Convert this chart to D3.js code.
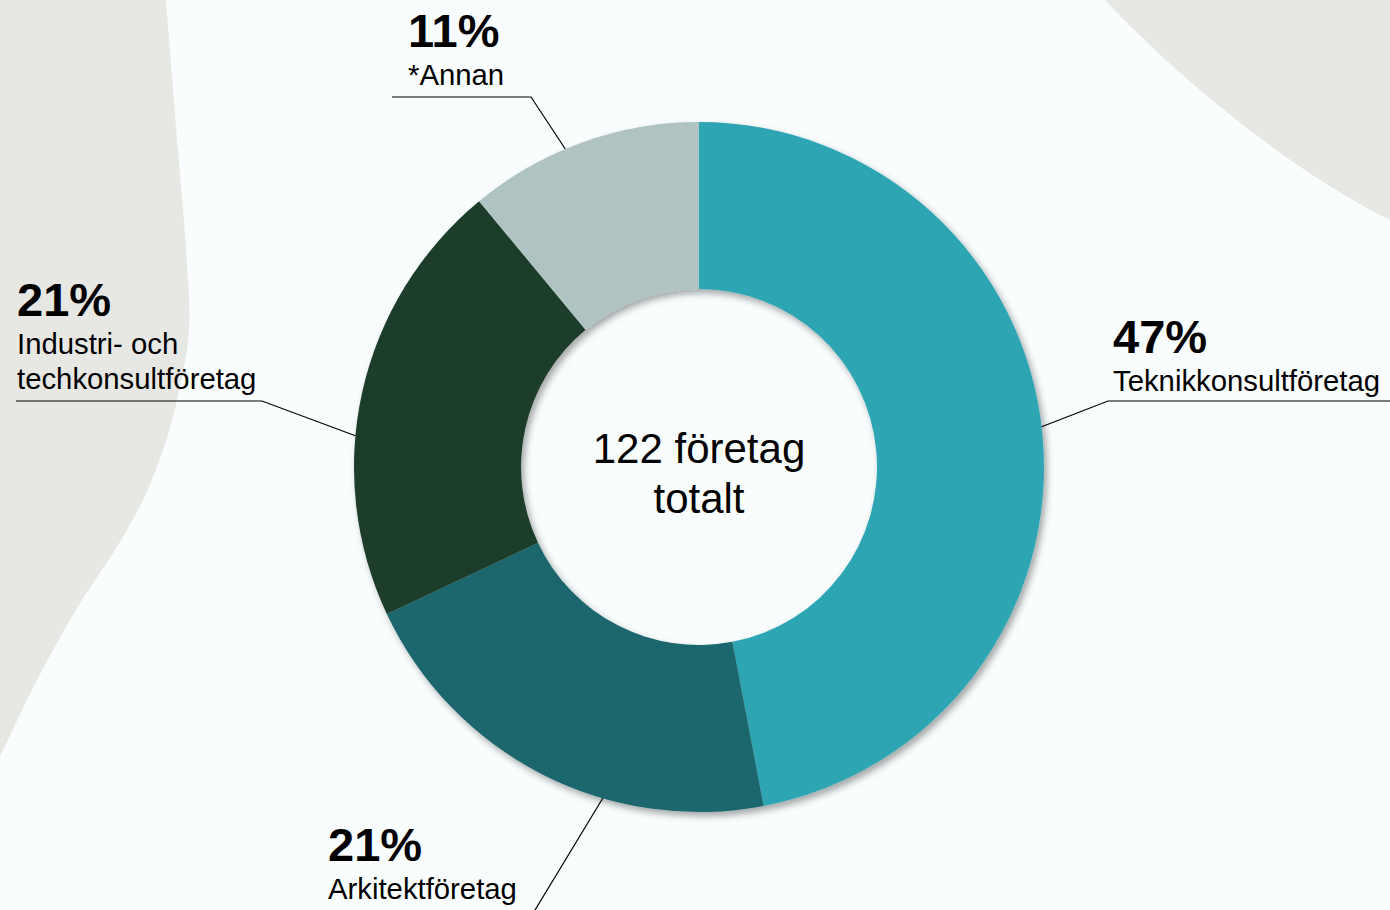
<!DOCTYPE html>
<html>
<head>
<meta charset="utf-8">
<script src="https://cdn.jsdelivr.net/npm/d3@7"></script>
<style>
  html, body { margin: 0; padding: 0; background: #f9fdfd; }
  svg { display: block; }
  text { font-family: "Liberation Sans", Arial, sans-serif; fill: #000; }
</style>
</head>
<body>
<svg id="chart" width="1390" height="910"></svg>
<script>
// ---- Data ----
const categories = ["Teknikkonsultföretag", "Arkitektföretag", "Industri- och techkonsultföretag", "*Annan"];
const values = [47, 21, 21, 11];
const percentLabels = ["47%", "21%", "21%", "11%"];
const labelLines = [["Teknikkonsultföretag"], ["Arkitektföretag"], ["Industri- och", "techkonsultföretag"], ["*Annan"]];
const colors = ["#2ea5b3", "#1f666e", "#1c3c29", "#b0c3c3"];
const centerText = ["122 företag", "totalt"];

// ---- Layout (label placement & decoration) ----
const cx = 699, cy = 467, outerR = 345, innerR = 178;
const labelLayout = [
  { x: 1113, y: 353, anchorDeg: 83.3, elbow: [1108, 401], lineEnd: 1390 },
  { x: 328, y: 861, anchorDeg: 196.2, elbow: [529, 920], lineEnd: 330 },
  { x: 17, y: 316, anchorDeg: 275.2, elbow: [262, 401], lineEnd: 16 },
  { x: 408, y: 47, anchorDeg: 337.2, elbow: [531, 97], lineEnd: 392 }
];
const leftBlob = [[166,0],[178,150],[186,250],[189,330],[177,400],[163,450],[143,500],[115,550],[82,600],[53,650],[27,700],[3,750],[-10,775]];

const svg = d3.select("#chart");

// background
svg.append("rect").attr("width", 1390).attr("height", 910).attr("fill", "#f9fdfd");
const curve = d3.line().curve(d3.curveCatmullRom.alpha(0.5));
svg.append("path")
  .attr("d", curve(leftBlob) + "L-10,0Z")
  .attr("fill", "#e7e7e3");
svg.append("path")
  .attr("d", "M1105,0 C1180,80 1290,170 1390,220 L1390,0 Z")
  .attr("fill", "#e7e7e3");

// shadow filter
const defs = svg.append("defs");
const f = defs.append("filter").attr("id", "shadow").attr("x", "-20%").attr("y", "-20%").attr("width", "140%").attr("height", "140%");
f.append("feDropShadow").attr("dx", 3).attr("dy", 4).attr("stdDeviation", 3.5)
  .attr("flood-color", "#000").attr("flood-opacity", 0.35);

const pie = d3.pie().sort(null).value(d => d);
const arc = d3.arc().innerRadius(innerR).outerRadius(outerR);
const arcs = pie(values);

const g = svg.append("g").attr("transform", `translate(${cx},${cy})`);
const ring = g.append("g").attr("filter", "url(#shadow)");
ring.selectAll("path").data(arcs).join("path")
  .attr("d", arc)
  .attr("fill", (d, i) => colors[i]);

// labels & leader lines
const rad = Math.PI / 180;
labelLayout.forEach((L, i) => {
  const a = L.anchorDeg * rad;
  const ax = cx + outerR * Math.sin(a);
  const ay = cy - outerR * Math.cos(a);
  svg.append("polyline")
    .attr("points", `${ax},${ay} ${L.elbow[0]},${L.elbow[1]} ${L.lineEnd},${L.elbow[1]}`)
    .attr("fill", "none").attr("stroke", "#000").attr("stroke-width", 1.2);

  svg.append("text").attr("x", L.x).attr("y", L.y)
    .attr("font-size", 47).attr("font-weight", "bold")
    .text(percentLabels[i]);
  labelLines[i].forEach((t, j) => {
    svg.append("text").attr("x", L.x).attr("y", L.y + 37.5 + j * 35)
      .attr("font-size", 29.3).text(t);
  });
});

// center text
centerText.forEach((t, j) => {
  svg.append("text").attr("x", cx).attr("y", cy - 4 + j * 50)
    .attr("text-anchor", "middle").attr("font-size", 42).text(t);
});
</script>
</body>
</html>
